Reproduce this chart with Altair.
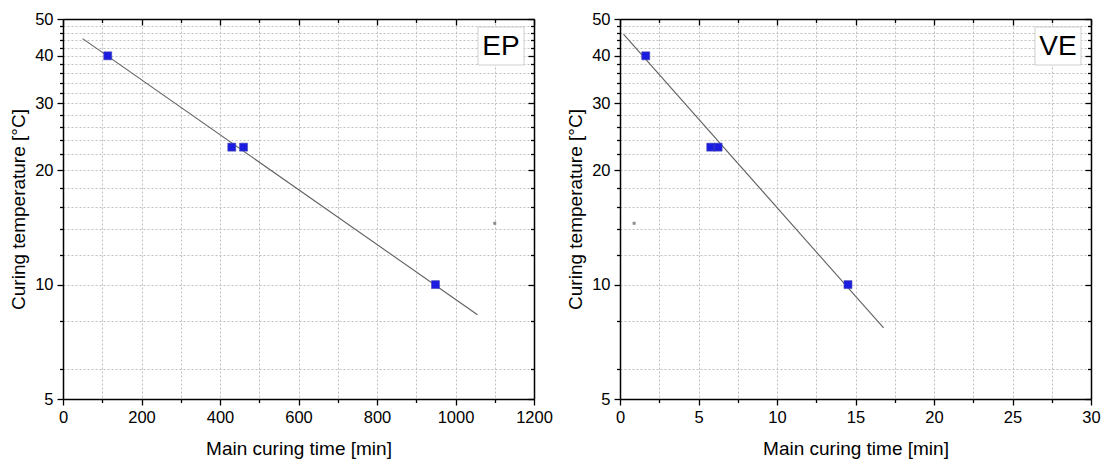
import altair as alt
import pandas as pd

# ---------------- data ----------------
ep_time = [114, 430, 460, 949]
ep_temp = [40, 23, 23, 10]
ep_fit_time = [50, 1056]
ep_fit_temp = [44.4, 8.33]
ep_extra_time = [1100]
ep_extra_temp = [14.5]

ve_time = [1.64, 5.78, 6.25, 14.52]
ve_temp = [40, 23, 23, 10]
ve_fit_time = [0.22, 16.79]
ve_fit_temp = [45.6, 7.69]
ve_extra_time = [0.9]
ve_extra_temp = [14.5]

y_ticks = [5] + list(range(6, 51, 2))
y_major = [5, 10, 20, 30, 40, 50]
ep_x_ticks = list(range(0, 1201, 100))
ve_x_ticks = [i * 2.5 for i in range(13)]

FONT = "Liberation Sans"
BLUE = "#1c1ce0"


def panel(label, t, T, ft, fT, et, eT, xticks, xmax, xstep):
    pts = pd.DataFrame({"time": t, "temp": T})
    fit = pd.DataFrame({"time": ft, "temp": fT})
    extra = pd.DataFrame({"time": et, "temp": eT})
    lab = pd.DataFrame({"label": [label]})

    xscale = alt.Scale(domain=[0, xmax], nice=False, zero=False)
    yscale = alt.Scale(type="log", domain=[5, 50], nice=False)

    xmaj = f"abs(datum.value / {xstep} - round(datum.value / {xstep})) < 0.001"
    ymaj = "indexof(" + str(y_major) + ", datum.value) >= 0"

    x_bottom = alt.Axis(
        orient="bottom", values=xticks, title="Main curing time [min]", format="d",
        grid=True, labelExpr=f"({xmaj}) ? datum.label : ''",
        tickSize={"condition": {"test": xmaj, "value": 6}, "value": 3.5},
    )
    x_top = alt.Axis(
        orient="top", values=xticks, title=None, labels=False, grid=False,
        tickSize={"condition": {"test": xmaj, "value": -6}, "value": -3.5},
    )
    y_left = alt.Axis(
        orient="left", values=y_ticks, title="Curing temperature [°C]", format="d",
        grid=True, labelExpr=f"({ymaj}) ? datum.label : ''",
        tickSize={"condition": {"test": ymaj, "value": 6}, "value": 3.5},
    )
    y_right = alt.Axis(
        orient="right", values=y_ticks, title=None, labels=False, grid=False,
        tickSize={"condition": {"test": ymaj, "value": -6}, "value": -3.5},
    )

    line = alt.Chart(fit).mark_line(color="#606060", strokeWidth=1.1).encode(
        x=alt.X("time:Q", scale=xscale, axis=x_top),
        y=alt.Y("temp:Q", scale=yscale, axis=y_right),
    )
    dots = alt.Chart(extra).mark_point(
        shape="square", filled=True, size=9, color="#8c8c8c", opacity=1
    ).encode(
        x=alt.X("time:Q", scale=xscale, axis=None),
        y=alt.Y("temp:Q", scale=yscale, axis=None),
    )
    points = alt.Chart(pts).mark_point(
        shape="square", filled=True, size=64, fill=BLUE, stroke="#4a4ab0",
        strokeWidth=0.6, opacity=1
    ).encode(
        x=alt.X("time:Q", scale=xscale, axis=x_bottom),
        y=alt.Y("temp:Q", scale=yscale, axis=y_left),
    )
    box = alt.Chart(lab).mark_rect(fill="white", stroke="#cfcfcf", strokeWidth=1).encode(
        x=alt.value(415), x2=alt.value(461), y=alt.value(8), y2=alt.value(46)
    )
    text = alt.Chart(lab).mark_text(
        font=FONT, fontSize=28, color="black", align="center", baseline="middle"
    ).encode(x=alt.value(438), y=alt.value(28), text="label:N")

    return (
        alt.layer(line, dots, points, box, text)
        .resolve_axis(x="independent", y="independent")
        .properties(width=471, height=380)
    )


left = panel("EP", ep_time, ep_temp, ep_fit_time, ep_fit_temp,
             ep_extra_time, ep_extra_temp, ep_x_ticks, 1200, 200)
right = panel("VE", ve_time, ve_temp, ve_fit_time, ve_fit_temp,
              ve_extra_time, ve_extra_temp, ve_x_ticks, 30, 5)

chart = (
    alt.hconcat(left, right, spacing=13)
    .properties(padding={"left": 9, "top": 11, "right": 0, "bottom": 0},
                background="white")
    .configure_view(stroke=None)
    .configure_axis(
        labelFont=FONT, labelFontSize=16.5, labelColor="black",
        titleFont=FONT, titleFontSize=19, titleFontWeight="normal", titleColor="black",
        domainColor="black", domainWidth=1.5, tickColor="black", tickWidth=1.3,
        gridColor="#bfbfbf", gridDash=[2, 2], gridWidth=1,
        labelFlush=False, labelOverlap=False, labelPadding=4,
    )
    .configure_axisX(titlePadding=14)
    .configure_axisY(titlePadding=6)
)

chart.save("out.html", embed_options={"renderer": "svg", "actions": False})
